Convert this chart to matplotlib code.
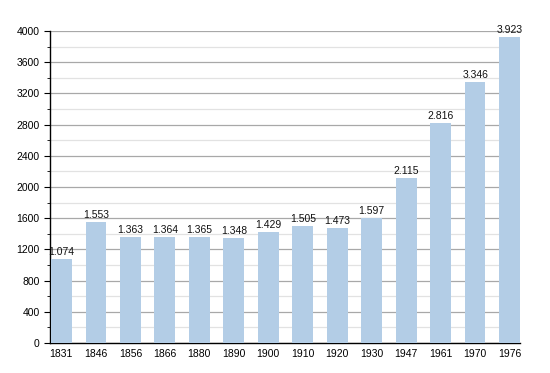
import matplotlib
matplotlib.use("Agg")
import matplotlib.pyplot as plt
from matplotlib.ticker import MultipleLocator

years = ["1831", "1846", "1856", "1866", "1880", "1890", "1900", "1910", "1920", "1930", "1947", "1961", "1970", "1976"]
population = [1074, 1553, 1363, 1364, 1365, 1348, 1429, 1505, 1473, 1597, 2115, 2816, 3346, 3923]
labels = ["1.074", "1.553", "1.363", "1.364", "1.365", "1.348", "1.429", "1.505", "1.473", "1.597", "2.115", "2.816", "3.346", "3.923"]

plt.rcParams['font.family'] = ['Liberation Sans', 'DejaVu Sans']

fig = plt.figure(figsize=(5.5, 3.73), dpi=100)
ax = fig.add_axes([0.0909, 0.0804, 0.8545, 0.8365])

x = list(range(len(years)))
bars = ax.bar(x, population, width=0.6, color="#b3cde6", zorder=3)
for xi, v, lab in zip(x, population, labels):
    ax.text(xi, v + 25, lab, ha="center", va="bottom", fontsize=7.5, color="#111111", zorder=4)

ax.set_xlim(-0.33, 13.3)
ax.set_ylim(0, 4000)
ax.yaxis.set_major_locator(MultipleLocator(400))
ax.yaxis.set_minor_locator(MultipleLocator(200))
ax.grid(axis="y", which="major", color="#a8a8a8", linewidth=0.9, zorder=1)
ax.grid(axis="y", which="minor", color="#e2e2e2", linewidth=0.9, zorder=1)
ax.set_xticks(x)
ax.set_xticklabels(years)
ax.tick_params(axis="x", length=0, labelsize=7.5, pad=4)
ax.tick_params(axis="y", which="major", length=4, labelsize=7.5, direction="out")
ax.tick_params(axis="y", which="minor", length=2.5, direction="out")
for s in ["top", "right"]:
    ax.spines[s].set_visible(False)
for s in ["left", "bottom"]:
    ax.spines[s].set_color("black")
    ax.spines[s].set_linewidth(1.0)
ax.set_axisbelow(True)

fig.savefig("out.png", dpi=100)
